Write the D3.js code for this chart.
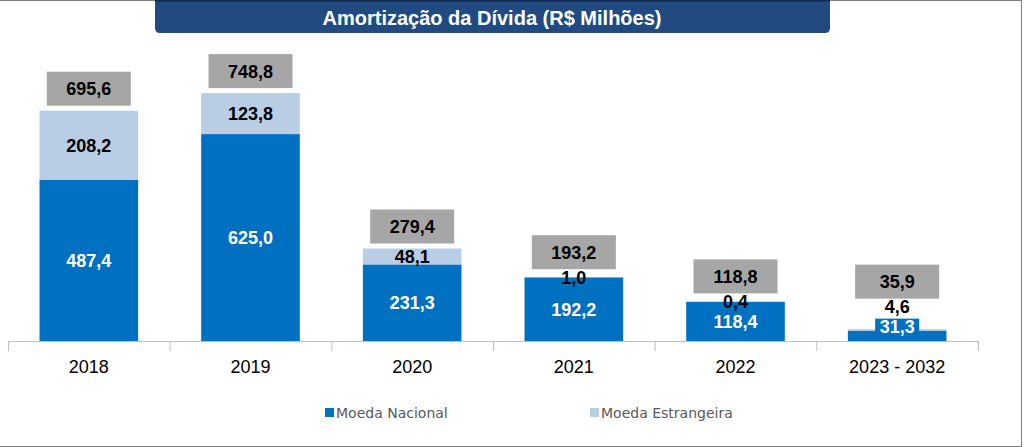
<!DOCTYPE html>
<html>
<head>
<meta charset="utf-8">
<script src="https://cdn.jsdelivr.net/npm/d3@7"></script>
<style>
  body { margin: 0; background: #fff; }
  svg { display: block; }
</style>
</head>
<body>
<div id="wrapper"></div>
<script>
// 1. Data
const categories = ["2018", "2019", "2020", "2021", "2022", "2023 - 2032"]
const nacional = [487.4, 625.0, 231.3, 192.2, 118.4, 31.3]
const estrangeira = [208.2, 123.8, 48.1, 1.0, 0.4, 4.6]
const totals = [695.6, 748.8, 279.4, 193.2, 118.8, 35.9]
const seriesNames = ["Moeda Nacional", "Moeda Estrangeira"]

const colors = {
  nacional: "#0070C0",
  estrangeira: "#B9CDE5",
  total: "#A6A6A6",
  title: "#214B80",
}

const fmt = v => d3.format(".1f")(v).replace(".", ",")

// 2. Dimensions
const dimensions = {
  width: 1024,
  height: 447,
  margin: { top: 0, right: 46, bottom: 106, left: 8 },
}
dimensions.boundedWidth = dimensions.width - dimensions.margin.left - dimensions.margin.right
dimensions.boundedHeight = dimensions.height - dimensions.margin.top - dimensions.margin.bottom

// 3. Canvas
const wrapper = d3.select("#wrapper")
  .append("svg")
    .attr("width", dimensions.width)
    .attr("height", dimensions.height)

// outer frame
wrapper.append("rect")
    .attr("x", -2)
    .attr("y", 0.5)
    .attr("width", 1023.5)
    .attr("height", 446)
    .attr("fill", "none")
    .attr("stroke", "#7F7F7F")
    .attr("stroke-width", 1)

const bounds = wrapper.append("g")
    .attr("transform", `translate(${dimensions.margin.left}, ${dimensions.margin.top})`)

// 4. Scales
const xScale = d3.scaleBand()
  .domain(categories)
  .range([0, dimensions.boundedWidth])
  .paddingInner(0.39)
  .paddingOuter(0.195)

const yScale = d3.scaleLinear()
  .domain([0, 1030])
  .range([dimensions.boundedHeight, 0])

const rows = categories.map((c, i) => ({
  cat: c,
  nac: nacional[i],
  est: estrangeira[i],
  total: totals[i],
}))

// 5. Bars
bounds.selectAll(".bar-nac")
  .data(rows)
  .join("rect")
    .attr("class", "bar-nac")
    .attr("x", d => xScale(d.cat))
    .attr("width", xScale.bandwidth())
    .attr("y", d => yScale(d.nac))
    .attr("height", d => yScale(0) - yScale(d.nac))
    .attr("fill", colors.nacional)

bounds.selectAll(".bar-est")
  .data(rows)
  .join("rect")
    .attr("class", "bar-est")
    .attr("x", d => xScale(d.cat))
    .attr("width", xScale.bandwidth())
    .attr("y", d => yScale(d.nac + d.est))
    .attr("height", d => yScale(d.nac) - yScale(d.nac + d.est))
    .attr("fill", colors.estrangeira)

// label placement (keep small segments' labels from colliding)
rows.forEach(d => {
  const nacTop = yScale(d.nac)
  const nacH = yScale(0) - nacTop
  d.nacY = nacH >= 18 ? nacTop + nacH / 2 : nacTop - 4
  const estTop = yScale(d.nac + d.est)
  const estMid = (estTop + nacTop) / 2
  d.estY = (nacTop - estTop) >= 14 ? estMid : Math.min(estMid, d.nacY - 20)
  d.boxBottom = Math.min(yScale(d.total) - 5, d.estY - 8)
})

const cx = d => xScale(d.cat) + xScale.bandwidth() / 2
const labelFont = "'Liberation Sans', Arial, sans-serif"

// nacional labels (blue fill behind)
const nacLabels = bounds.selectAll(".lab-nac")
  .data(rows)
  .join("g")
    .attr("class", "lab-nac")
    .attr("transform", d => `translate(${cx(d)}, ${d.nacY})`)

nacLabels.append("rect")
    .attr("x", -22)
    .attr("y", -8)
    .attr("width", 44)
    .attr("height", 16)
    .attr("fill", colors.nacional)

nacLabels.append("text")
    .attr("text-anchor", "middle")
    .attr("dy", "0.36em")
    .style("font-family", labelFont)
    .style("font-weight", "bold")
    .style("font-size", "18px")
    .attr("fill", "#fff")
    .text(d => fmt(d.nac))

// estrangeira labels
bounds.selectAll(".lab-est")
  .data(rows)
  .join("text")
    .attr("class", "lab-est")
    .attr("x", cx)
    .attr("y", d => d.estY)
    .attr("text-anchor", "middle")
    .attr("dy", "0.36em")
    .style("font-family", labelFont)
    .style("font-weight", "bold")
    .style("font-size", "18px")
    .attr("fill", "#000")
    .text(d => fmt(d.est))

// total boxes
const totalLabels = bounds.selectAll(".lab-total")
  .data(rows)
  .join("g")
    .attr("class", "lab-total")
    .attr("transform", d => `translate(${cx(d)}, ${d.boxBottom - 17})`)

totalLabels.append("rect")
    .attr("x", -42)
    .attr("y", -17)
    .attr("width", 84)
    .attr("height", 34)
    .attr("fill", colors.total)

totalLabels.append("text")
    .attr("text-anchor", "middle")
    .attr("dy", "0.36em")
    .style("font-family", labelFont)
    .style("font-weight", "bold")
    .style("font-size", "18px")
    .attr("fill", "#000")
    .text(d => fmt(d.total))

// 6. Peripherals
const xAxis = bounds.append("g")
    .attr("transform", `translate(0, ${dimensions.boundedHeight})`)

xAxis.append("line")
    .attr("x1", 0)
    .attr("x2", dimensions.boundedWidth)
    .attr("y1", 0.5)
    .attr("y2", 0.5)
    .attr("stroke", "#BFBFBF")

const tickPositions = d3.range(categories.length + 1).map(i => i * xScale.step())
xAxis.selectAll(".tick-line")
  .data(tickPositions)
  .join("line")
    .attr("class", "tick-line")
    .attr("x1", d => d + 0.5)
    .attr("x2", d => d + 0.5)
    .attr("y1", 0)
    .attr("y2", 10)
    .attr("stroke", "#BFBFBF")

xAxis.selectAll(".cat-label")
  .data(categories)
  .join("text")
    .attr("class", "cat-label")
    .attr("x", d => xScale(d) + xScale.bandwidth() / 2)
    .attr("y", 26)
    .attr("dy", "0.36em")
    .attr("text-anchor", "middle")
    .style("font-family", labelFont)
    .style("font-size", "18px")
    .attr("fill", "#000")
    .text(d => d)

// title
const title = wrapper.append("g")
title.append("path")
    .attr("d", "M155,0 H830 V28 Q830,33 825,33 H160 Q155,33 155,28 Z")
    .attr("fill", colors.title)
title.append("line")
    .attr("x1", 155).attr("x2", 830)
    .attr("y1", 1).attr("y2", 1)
    .attr("stroke", "#14305A")
    .attr("stroke-width", 2)
title.append("text")
    .attr("x", 492)
    .attr("y", 18)
    .attr("dy", "0.36em")
    .attr("text-anchor", "middle")
    .style("font-family", labelFont)
    .style("font-weight", "bold")
    .style("font-size", "20px")
    .attr("fill", "#fff")
    .text("Amortização da Dívida (R$ Milhões)")

// legend
const legendX = [325, 590]
const legendColors = [colors.nacional, colors.estrangeira]
const legend = wrapper.selectAll(".legend")
  .data(seriesNames)
  .join("g")
    .attr("class", "legend")
    .attr("transform", (d, i) => `translate(${legendX[i]}, 413)`)

legend.append("rect")
    .attr("x", 0)
    .attr("y", -5)
    .attr("width", 9)
    .attr("height", 9)
    .attr("fill", (d, i) => legendColors[i])

legend.append("text")
    .attr("x", 11)
    .attr("y", 0)
    .attr("dy", "0.36em")
    .style("font-family", "'DejaVu Sans', sans-serif")
    .style("font-size", "14px")
    .attr("fill", "#595959")
    .text(d => d)
</script>
</body>
</html>
